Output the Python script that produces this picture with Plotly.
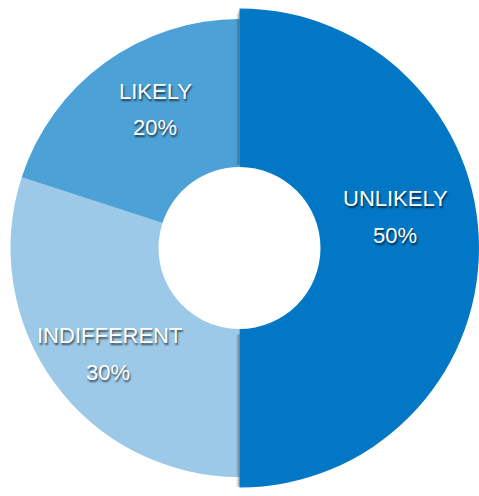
import plotly.graph_objects as go

# Survey answer shares (clockwise from 12 o'clock)
labels = ["UNLIKELY", "INDIFFERENT", "LIKELY"]
values = [50, 30, 20]
colors = ["#0177c6", "#9cc9e8", "#4ca1d6"]

W, H = 479, 496
CLEAR = "rgba(0,0,0,0)"

cx, cy = W / 2, H / 2          # shared centre in pixels
r_big = W / 2                  # radius of the emphasised slice
r_small = 229                  # radius of the remaining slices
r_hole = 81

# where each two-line caption sits (pixel centre of name line, percent line)
caption_pos = {
    "UNLIKELY": ((395, 199), (395, 235)),
    "INDIFFERENT": ((109, 335), (108, 372)),
    "LIKELY": ((155, 91), (155, 127)),
}


def domain(r, dx=0.0, dy=0.0):
    x0 = (cx + dx - r) / W
    x1 = (cx + dx + r) / W
    y0 = (H - (cy + dy) - r) / H
    y1 = (H - (cy + dy) + r) / H
    return dict(x=[max(0, x0), min(1, x1)], y=[max(0, y0), min(1, y1)])


common = dict(labels=labels, values=values, sort=False, direction="clockwise",
              rotation=0, showlegend=False, hoverinfo="label+percent",
              textinfo="none")

fig = go.Figure()

# smaller ring: INDIFFERENT and LIKELY
fig.add_trace(go.Pie(
    **common,
    domain=domain(r_small),
    hole=r_hole / r_small,
    marker=dict(colors=[CLEAR, colors[1], colors[2]], line=dict(width=0)),
))

# soft drop shadow under the large slice
for off, alpha in [(3.0, 0.12), (1.5, 0.14)]:
    r_sh = r_big - off
    fig.add_trace(go.Pie(
        **common,
        domain=domain(r_sh, dx=-off, dy=off * 0.7),
        hole=(r_hole + 4) / r_sh,
        marker=dict(colors=[f"rgba(0,0,0,{alpha})", CLEAR, CLEAR], line=dict(width=0)),
    ))

# larger ring: UNLIKELY
fig.add_trace(go.Pie(
    **common,
    domain=domain(r_big),
    hole=r_hole / r_big,
    marker=dict(colors=[colors[0], CLEAR, CLEAR], line=dict(width=0)),
))

# captions: name and share of each answer
text_font = dict(family="Liberation Sans, Arial, sans-serif", size=22, color="white",
                 shadow="1px 2px 2px rgba(0,0,0,0.65)")
total = sum(values)
annotations = []
for lab, val in zip(labels, values):
    (nx, ny), (px, py) = caption_pos[lab]
    for txt, (x, y) in ((lab, (nx, ny)), (f"{val / total * 100:.0f}%", (px, py))):
        annotations.append(dict(
            text=txt, x=x / W, y=1 - y / H, xref="paper", yref="paper",
            xanchor="center", yanchor="middle", showarrow=False, font=text_font,
        ))

fig.update_layout(
    width=W, height=H,
    margin=dict(l=0, r=0, t=0, b=0),
    paper_bgcolor="white",
    plot_bgcolor="white",
    annotations=annotations,
)

fig.write_html("out.html")
